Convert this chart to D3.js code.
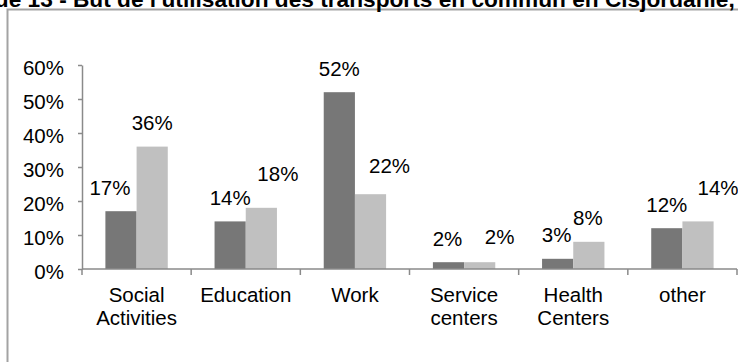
<!DOCTYPE html>
<html>
<head>
<meta charset="utf-8">
<script src="https://cdn.jsdelivr.net/npm/d3@7"></script>
<style>
  html, body { margin: 0; padding: 0; background: #fff; overflow: hidden; }
  svg { display: block; font-family: "Liberation Sans", Arial, sans-serif; }
</style>
</head>
<body>
<svg id="chart" width="738" height="362"></svg>
<script>
// Purpose of public transport trips, two groups of respondents
const categories = ["Social Activities", "Education", "Work", "Service centers", "Health Centers", "other"];
const categoryLines = [["Social", "Activities"], ["Education"], ["Work"], ["Service", "centers"], ["Health", "Centers"], ["other"]];
const darkValues = [0.17, 0.14, 0.52, 0.02, 0.03, 0.12];
const lightValues = [0.36, 0.18, 0.22, 0.02, 0.08, 0.14];
const yTicks = [0, 0.1, 0.2, 0.3, 0.4, 0.5, 0.6];
const titleText = "Graphique 13 - But de l'utilisation des transports en commun en Cisjordanie, 2013";

// Small hand nudges for data labels that were moved to avoid overlap [dx, dy]
const darkLabelNudge = [[-11, 0], [0, 0], [0, 0], [-1, 0], [-1, 0], [0, 0]];
const lightLabelNudge = [[0, 0], [16.5, -10], [19, -5], [20, -1.5], [-1, 0], [20, -9.5]];

const svg = d3.select("#chart");
const fontSize = 20.5;
const axisColor = "#8a8a8a";
const darkColor = "#777777";
const lightColor = "#c0c0c0";

// Chart frame (runs off the right and bottom edges)
svg.append("rect")
  .attr("x", 7.5).attr("y", 9.5)
  .attr("width", 760).attr("height", 400)
  .attr("fill", "none")
  .attr("stroke", "#a3a3a3")
  .attr("stroke-width", 2);

// Title, mostly above the visible area; sized so "But ... Cisjordanie," spans x 73..735
const title = svg.append("text")
  .attr("y", 7)
  .attr("font-weight", "bold")
  .attr("font-size", 20)
  .attr("fill", "#000")
  .text(titleText);
const startIdx = titleText.indexOf("But");
const endIdx = titleText.indexOf(",") + 1;
const spanLen = title.node().getSubStringLength(startIdx, endIdx - startIdx);
const titleSize = 20 * (735 - 73) / spanLen;
title.attr("font-size", titleSize);
const prefixLen = title.node().getSubStringLength(0, startIdx);
title.attr("x", 73 - prefixLen);

const x = d3.scaleBand().domain(categories).range([82, 737]).paddingInner(0).paddingOuter(0);
const inner = d3.scaleBand().domain(["dark", "light"]).range([0, x.bandwidth()]).paddingInner(0).paddingOuter(0.75);
const y = d3.scaleLinear().domain([0, 0.6]).range([269, 65]);

// Y axis
const yAxis = svg.append("g")
  .attr("transform", "translate(82,0)")
  .call(d3.axisLeft(y).tickValues(yTicks).tickFormat(d3.format(".0%")).tickSize(4).tickSizeOuter(0).tickPadding(14));
yAxis.select(".domain").attr("stroke", axisColor).attr("stroke-width", 1.5);
yAxis.selectAll(".tick line").attr("stroke", axisColor).attr("stroke-width", 1.5);
yAxis.selectAll(".tick text")
  .attr("font-size", fontSize)
  .attr("font-family", "'Liberation Sans', Arial, sans-serif")
  .attr("fill", "#000")
  .attr("dy", "0.44em");

// Bars
const rows = categories.map((c, i) => ({ c, i, dark: darkValues[i], light: lightValues[i] }));
const groups = svg.append("g").selectAll("g").data(rows).join("g")
  .attr("transform", d => `translate(${x(d.c)},0)`);

groups.append("rect")
  .attr("x", inner("dark")).attr("width", inner.bandwidth())
  .attr("y", d => y(d.dark)).attr("height", d => y(0) - y(d.dark))
  .attr("fill", darkColor);
groups.append("rect")
  .attr("x", inner("light")).attr("width", inner.bandwidth())
  .attr("y", d => y(d.light)).attr("height", d => y(0) - y(d.light))
  .attr("fill", lightColor);

// X axis line and category tick marks at band edges
svg.append("line")
  .attr("x1", 82).attr("x2", 737)
  .attr("y1", y(0)).attr("y2", y(0))
  .attr("stroke", axisColor).attr("stroke-width", 1.5);
const edges = categories.map(c => x(c)).concat([x.range()[1]]);
svg.append("g").selectAll("line").data(edges).join("line")
  .attr("x1", d => d).attr("x2", d => d)
  .attr("y1", y(0)).attr("y2", y(0) + 6)
  .attr("stroke", axisColor).attr("stroke-width", 1.5);

// Data labels
const fmt = d3.format(".0%");
const labelGap = 16.5;
groups.append("text")
  .attr("text-anchor", "middle")
  .attr("font-size", fontSize)
  .attr("x", d => inner("dark") + inner.bandwidth() / 2 + darkLabelNudge[d.i][0])
  .attr("y", d => y(d.dark) - labelGap + darkLabelNudge[d.i][1])
  .text(d => fmt(d.dark));
groups.append("text")
  .attr("text-anchor", "middle")
  .attr("font-size", fontSize)
  .attr("x", d => inner("light") + inner.bandwidth() / 2 + lightLabelNudge[d.i][0])
  .attr("y", d => y(d.light) - labelGap + lightLabelNudge[d.i][1])
  .text(d => fmt(d.light));

// Category labels
const cat = svg.append("g").selectAll("text").data(rows).join("text")
  .attr("text-anchor", "middle")
  .attr("font-size", fontSize)
  .attr("x", d => x(d.c) + x.bandwidth() / 2)
  .attr("y", 302);
cat.selectAll("tspan").data(d => categoryLines[d.i].map(t => ({ t, cx: x(d.c) + x.bandwidth() / 2 })))
  .join("tspan")
  .attr("x", d => d.cx)
  .attr("dy", (d, j) => j === 0 ? 0 : 23)
  .text(d => d.t);
</script>
</body>
</html>
